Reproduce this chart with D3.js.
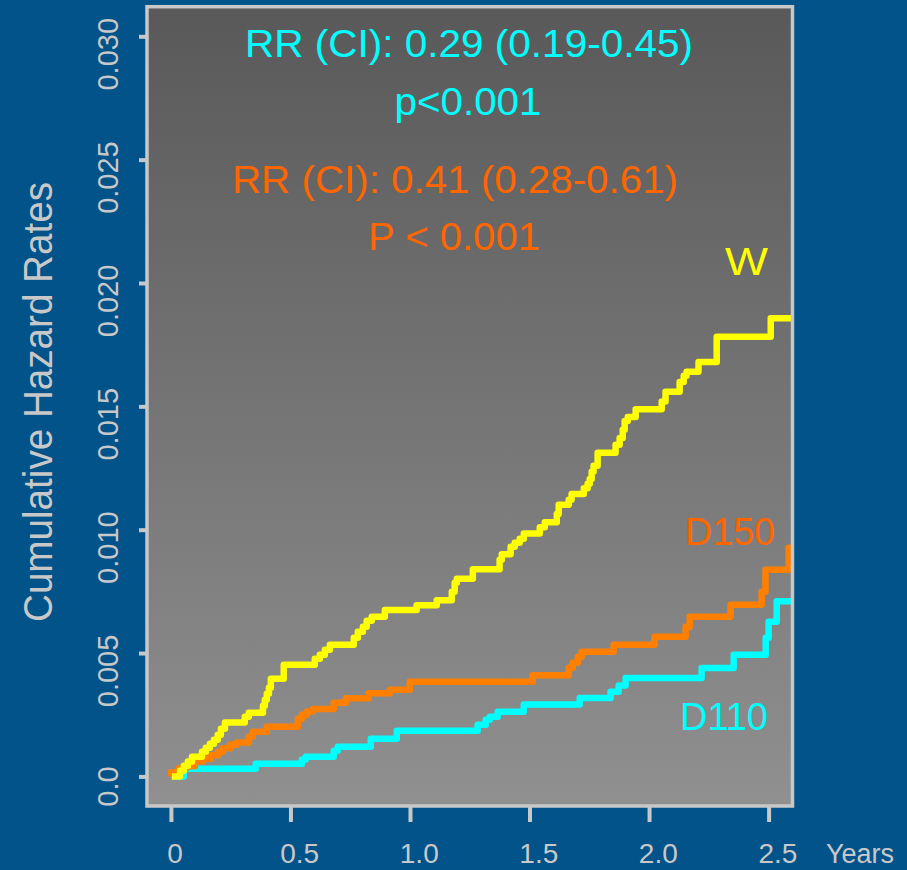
<!DOCTYPE html>
<html>
<head>
<meta charset="utf-8">
<script src="https://cdn.jsdelivr.net/npm/d3@7"></script>
<style>
  html, body { margin: 0; padding: 0; background: #02538a; }
  svg { display: block; }
  text { font-family: "Liberation Sans", Arial, sans-serif; }
</style>
</head>
<body>
<svg id="chart" width="907" height="870"></svg>
<script>
// Axis ticks
const xTicks = [0, 0.5, 1.0, 1.5, 2.0, 2.5];
const xTickLabels = ["0", "0.5", "1.0", "1.5", "2.0", "2.5"];
const yTicks = [0, 0.005, 0.010, 0.015, 0.020, 0.025, 0.030];
const yTickLabels = ["0.0", "0.005", "0.010", "0.015", "0.020", "0.025", "0.030"];

// Cumulative hazard step functions (time in years, cumulative hazard)
const timeW = [0.004,0.038,0.054,0.071,0.088,0.130,0.146,0.163,0.180,0.196,0.209,0.226,0.309,0.326,0.385,0.393,0.401,0.410,0.418,0.472,0.602,0.623,0.644,0.665,0.765,0.782,0.803,0.819,0.840,0.895,1.028,1.112,1.175,1.187,1.196,1.263,1.375,1.384,1.421,1.438,1.459,1.476,1.543,1.564,1.614,1.622,1.664,1.676,1.727,1.743,1.752,1.760,1.768,1.785,1.860,1.877,1.890,1.898,1.911,1.944,2.053,2.069,2.128,2.145,2.157,2.207,2.283,2.509];
const hazW = [0,0.00023,0.00043,0.00060,0.00080,0.00100,0.00116,0.00132,0.00149,0.00169,0.00193,0.00218,0.00242,0.00258,0.00286,0.00311,0.00335,0.00359,0.00396,0.00453,0.00477,0.00493,0.00513,0.00534,0.00562,0.00586,0.00607,0.00631,0.00647,0.00675,0.00694,0.00714,0.00748,0.00785,0.00801,0.00840,0.00878,0.00900,0.00931,0.00947,0.00963,0.00985,0.01010,0.01030,0.01064,0.01101,0.01121,0.01145,0.01168,0.01186,0.01206,0.01235,0.01259,0.01312,0.01344,0.01372,0.01405,0.01441,0.01457,0.01488,0.01520,0.01559,0.01599,0.01624,0.01640,0.01680,0.01782,0.01857];

const timeD150 = [0,0.001,0.033,0.063,0.100,0.134,0.167,0.196,0.217,0.247,0.276,0.326,0.343,0.401,0.531,0.548,0.569,0.594,0.681,0.732,0.828,0.916,0.999,1.513,1.664,1.681,1.702,1.718,1.852,2.023,2.153,2.170,2.341,2.471,2.487,2.584];
const hazD150 = [0,0.00017,0.00033,0.00041,0.00060,0.00072,0.00086,0.00100,0.00114,0.00128,0.00137,0.00161,0.00181,0.00201,0.00234,0.00250,0.00263,0.00273,0.00299,0.00317,0.00337,0.00351,0.00384,0.00410,0.00440,0.00461,0.00485,0.00505,0.00534,0.00566,0.00607,0.00647,0.00696,0.00748,0.00838,0.00927];

const timeD110 = [0.004,0.054,0.355,0.548,0.564,0.681,0.698,0.836,0.945,1.283,1.317,1.334,1.367,1.476,1.710,1.839,1.873,1.902,2.220,2.354,2.488,2.500,2.534];
const hazD110 = [0,0.00031,0.00051,0.00068,0.00080,0.00104,0.00120,0.00153,0.00185,0.00209,0.00230,0.00242,0.00262,0.00291,0.00318,0.00343,0.00368,0.00399,0.00439,0.00493,0.00562,0.00627,0.00710];

const followUpEnd = 2.6;

const series = [
  { name: "D110", time: timeD110, haz: hazD110, color: "#00ffff" },
  { name: "D150", time: timeD150, haz: hazD150, color: "#ff8000" },
  { name: "W",    time: timeW,    haz: hazW,    color: "#ffff00" }
];

const svg = d3.select("#chart");
const axisColor = "#c8c8c8";

const x = d3.scaleLinear().domain([-0.1, 2.6]).range([147, 792.5]);
const y = d3.scaleLinear().domain([-0.0012, 0.0312]).range([806, 6.7]);
const [x0, x1] = x.range();
const [yB, yT] = y.range();

// Panel background gradient
const defs = svg.append("defs");
const grad = defs.append("linearGradient")
  .attr("id", "panelFill").attr("x1", 0).attr("y1", 0).attr("x2", 0).attr("y2", 1);
grad.append("stop").attr("offset", "0%").attr("stop-color", "#595959");
grad.append("stop").attr("offset", "100%").attr("stop-color", "#909090");

defs.append("clipPath").attr("id", "plotClip")
  .append("rect").attr("x", x0).attr("y", yT).attr("width", x1 - x0).attr("height", yB - yT);

svg.append("rect")
  .attr("x", x0).attr("y", yT).attr("width", x1 - x0).attr("height", yB - yT)
  .attr("fill", "url(#panelFill)");

// Y axis
const gy = svg.append("g")
  .attr("transform", `translate(${x0},0)`)
  .call(d3.axisLeft(y).tickValues(yTicks).tickSize(8).tickFormat((d, i) => yTickLabels[i]));
gy.select(".domain").remove();
gy.selectAll(".tick line").attr("stroke", axisColor).attr("stroke-width", 4);
gy.selectAll(".tick text")
  .attr("fill", axisColor)
  .attr("font-size", 29)
  .attr("font-family", "Liberation Sans, Arial, sans-serif")
  .attr("text-anchor", "start")
  .attr("dy", null)
  .attr("transform", "rotate(-90)")
  .attr("y", -29)
  .each(function () {
    const w = this.getComputedTextLength();
    d3.select(this).attr("x", -0.74 * w);
  });

// X axis
const gx = svg.append("g")
  .attr("transform", `translate(0,${yB})`)
  .call(d3.axisBottom(x).tickValues(xTicks).tickSize(16).tickFormat((d, i) => xTickLabels[i]));
gx.select(".domain").remove();
gx.selectAll(".tick line").attr("stroke", axisColor).attr("stroke-width", 4);
gx.selectAll(".tick text")
  .attr("fill", axisColor)
  .attr("font-size", 28)
  .attr("font-family", "Liberation Sans, Arial, sans-serif")
  .attr("text-anchor", "start")
  .attr("dy", null)
  .attr("y", 57)
  .each(function () {
    const w = this.getComputedTextLength();
    d3.select(this).attr("x", -0.275 * w);
  });

svg.append("text")
  .attr("x", 826).attr("y", 863)
  .attr("fill", axisColor).attr("font-size", 27)
  .text("Years");

svg.append("text")
  .attr("transform", "translate(52,402) rotate(-90)")
  .attr("text-anchor", "middle")
  .attr("fill", axisColor).attr("font-size", 41)
  .attr("textLength", 440).attr("lengthAdjust", "spacingAndGlyphs")
  .text("Cumulative Hazard Rates");

// Step curves
const line = d3.line()
  .x(d => x(d[0]))
  .y(d => y(d[1]))
  .curve(d3.curveStepAfter);

const plot = svg.append("g").attr("clip-path", "url(#plotClip)");
series.forEach(s => {
  const pts = s.time.map((t, i) => [t, s.haz[i]]);
  pts.push([followUpEnd, s.haz[s.haz.length - 1]]);
  plot.append("path")
    .attr("d", line(pts))
    .attr("fill", "none")
    .attr("stroke", s.color)
    .attr("stroke-width", 6.5)
    .attr("stroke-linejoin", "round");
});

// Panel frame
svg.append("rect")
  .attr("x", x0).attr("y", yT).attr("width", x1 - x0).attr("height", yB - yT)
  .attr("fill", "none").attr("stroke", axisColor).attr("stroke-width", 3.5);

// Annotations
const notes = [
  { text: "RR (CI): 0.29 (0.19-0.45)", cx: 469, by: 57,  len: 448, color: "#00ffff" },
  { text: "p<0.001",                   cx: 468, by: 115, len: 147, color: "#00ffff" },
  { text: "RR (CI): 0.41 (0.28-0.61)", cx: 455, by: 193, len: 446, color: "#ff6600" },
  { text: "P < 0.001",                 cx: 454, by: 250, len: 172, color: "#ff6600" }
];
notes.forEach(n => {
  svg.append("text")
    .attr("x", n.cx).attr("y", n.by)
    .attr("text-anchor", "middle")
    .attr("fill", n.color).attr("font-size", 39)
    .attr("textLength", n.len).attr("lengthAdjust", "spacingAndGlyphs")
    .text(n.text);
});

// Series labels
const labels = [
  { text: "W",    x: 725, by: 275, len: 43, color: "#ffff00" },
  { text: "D150", x: 685, by: 545, len: 90, color: "#ff6600" },
  { text: "D110", x: 680, by: 730, len: 88, color: "#00ffff" }
];
labels.forEach(l => {
  svg.append("text")
    .attr("x", l.x).attr("y", l.by)
    .attr("fill", l.color).attr("font-size", 39)
    .attr("textLength", l.len).attr("lengthAdjust", "spacingAndGlyphs")
    .text(l.text);
});
</script>
</body>
</html>
